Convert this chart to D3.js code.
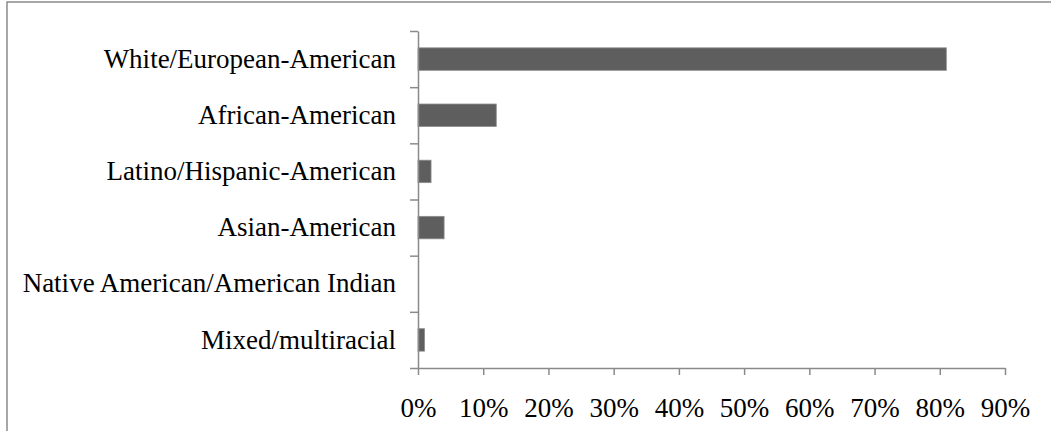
<!DOCTYPE html>
<html>
    <head>
        <title>Race / ethnicity</title>
        <meta charset="UTF-8">
        <script type="text/javascript" src="https://cdn.jsdelivr.net/npm/d3@7/dist/d3.min.js"></script>
        <style>
            body { margin: 0; background: #fff; }
            text { font-family: "Liberation Serif", "Times New Roman", serif; }
        </style>
    </head>
    <body>
        <script type="text/javascript">
            var w = 1051,
                    h = 431;

            var categories = [
                "White/European-American",
                "African-American",
                "Latino/Hispanic-American",
                "Asian-American",
                "Native American/American Indian",
                "Mixed/multiracial"
            ];
            var percents = [81, 12, 2, 4, 0, 1];
            var tickValues = [0, 10, 20, 30, 40, 50, 60, 70, 80, 90];

            // plot area (note: "top" is taken by window.top)
            var plotLeft = 418, plotRight = 1005, plotTop = 31, plotBottom = 368;

            var svg = d3.select("body").append("svg")
                    .attr("width", w)
                    .attr("height", h);

            // outer frame (cut off at right and bottom like the source)
            svg.append("rect")
                    .attr("x", 7)
                    .attr("y", 2)
                    .attr("width", 1100)
                    .attr("height", 500)
                    .style("fill", "none")
                    .style("stroke", "#8a8a8a")
                    .style("stroke-width", 1.5);

            var x = d3.scaleLinear().domain([0, 90]).range([plotLeft, plotRight]);
            var y = d3.scaleBand().domain(categories).range([plotTop, plotBottom]).paddingInner(0.6).paddingOuter(0.3);

            svg.selectAll("rect.bar")
                    .data(categories)
                    .enter()
                    .append("rect")
                    .attr("class", "bar")
                    .attr("x", x(0))
                    .attr("y", function(d) {
                        return y(d);
                    })
                    .attr("width", function(d, i) {
                        return x(percents[i]) - x(0);
                    })
                    .attr("height", y.bandwidth())
                    .style("fill", "#5e5e5e")
                    .style("stroke", "#8c8c8c")
                    .style("stroke-width", 0.8);

            // y axis: tick marks sit between the categories
            var yb = d3.scaleLinear().domain([0, 6]).range([plotTop, plotBottom]);
            svg.append("g")
                    .attr("transform", "translate(" + plotLeft + ",0)")
                    .call(d3.axisLeft(yb).tickValues(d3.range(0, 7)).tickSize(8).tickSizeOuter(0).tickFormat(""));

            svg.append("g").selectAll("text")
                    .data(categories)
                    .enter()
                    .append("text")
                    .attr("x", 396)
                    .attr("y", function(d) {
                        return y(d) + y.bandwidth() / 2;
                    })
                    .attr("dy", "0.32em")
                    .attr("text-anchor", "end")
                    .style("font-size", "27px")
                    .style("fill", "#000")
                    .text(function(d) {
                        return d;
                    });

            var xAxis = svg.append("g")
                    .attr("transform", "translate(0," + plotBottom + ")")
                    .call(d3.axisBottom(x).tickValues(tickValues).tickSize(7).tickSizeOuter(0).tickFormat(function(d) {
                        return d + "%";
                    }));

            xAxis.selectAll("text")
                    .attr("y", 49)
                    .attr("dy", 0)
                    .style("font-size", "27px")
                    .style("fill", "#000");

            svg.selectAll(".domain, .tick line")
                    .style("stroke", "#8a8a8a")
                    .style("stroke-width", 1.5);
        </script>
    </body>
</html>
